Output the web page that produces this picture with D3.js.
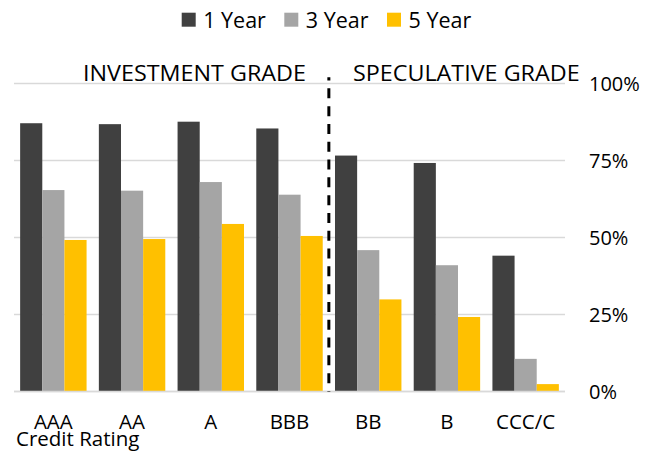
<!DOCTYPE html>
<html>
<head>
<meta charset="utf-8">
<script src="https://cdn.jsdelivr.net/npm/d3@7"></script>
<style>
  html, body { margin: 0; padding: 0; background: #fff; }
  svg { display: block; }
  text { font-family: "Open Sans", "Noto Sans", sans-serif; fill: #000; }
</style>
</head>
<body>
<svg id="chart" width="655" height="454"></svg>
<script>
const categories = ["AAA", "AA", "A", "BBB", "BB", "B", "CCC/C"];
const seriesNames = ["1 Year", "3 Year", "5 Year"];
const oneYear   = [87.1, 86.8, 87.6, 85.4, 76.6, 74.2, 44.1];
const threeYear = [65.4, 65.2, 68.0, 63.9, 45.9, 41.0, 10.6];
const fiveYear  = [49.2, 49.5, 54.4, 50.5, 29.9, 24.2, 2.4];
const yTicks = [0, 25, 50, 75, 100];
const yTickLabels = ["0%", "25%", "50%", "75%", "100%"];
const gradeLabels = ["INVESTMENT GRADE", "SPECULATIVE GRADE"];
const xAxisTitle = "Credit Rating";
const separatorBefore = "BB";
const separatorTop = 102;

const colors = ["#404040", "#a5a5a5", "#ffc000"];
const seriesValues = [oneYear, threeYear, fiveYear];

const svg = d3.select("#chart");
const plot = { left: 14, right: 565, top: 83.5, bottom: 391.5 };

const pad = 0.156;
const x = d3.scaleBand().domain(categories).range([plot.left, plot.right])
  .paddingInner(pad).paddingOuter(pad / 2);
const xs = d3.scaleBand().domain(seriesNames).range([0, x.bandwidth()]);
const y = d3.scaleLinear().domain([0, 100]).range([plot.bottom, plot.top]);

// gridlines
svg.append("g").selectAll("line").data(yTicks).join("line")
  .attr("x1", plot.left).attr("x2", plot.right)
  .attr("y1", d => y(d)).attr("y2", d => y(d))
  .attr("stroke", "#d9d9d9").attr("stroke-width", 1.5);

// bars
const table = categories.map((c, i) => ({ cat: c, vals: seriesNames.map((s, j) => ({ s, v: seriesValues[j][i], j })) }));
svg.append("g").selectAll("g").data(table).join("g")
  .attr("transform", d => `translate(${x(d.cat)},0)`)
  .selectAll("rect").data(d => d.vals).join("rect")
  .attr("x", d => xs(d.s))
  .attr("width", xs.bandwidth())
  .attr("y", d => y(d.v))
  .attr("height", d => y(0) - y(d.v))
  .attr("fill", d => colors[d.j]);

// baseline on top
svg.append("line")
  .attr("x1", plot.left).attr("x2", plot.right)
  .attr("y1", y(0)).attr("y2", y(0))
  .attr("stroke", "#d9d9d9").attr("stroke-width", 1.5);

// separator
const sepX = x(separatorBefore) - (x.step() - x.bandwidth()) / 2;
svg.append("line")
  .attr("x1", sepX).attr("x2", sepX)
  .attr("y1", y(separatorTop)).attr("y2", y(0))
  .attr("stroke", "#000").attr("stroke-width", 3)
  .attr("stroke-dasharray", "10 7.8")
  .attr("stroke-dashoffset", 6.8);

// y labels (right)
svg.append("g").selectAll("text").data(yTicks).join("text")
  .attr("x", 589).attr("y", d => y(d)).attr("dy", "0.36em")
  .style("font-size", "20px")
  .text((d, i) => yTickLabels[i]);

// category labels
svg.append("g").selectAll("text").data(categories).join("text")
  .attr("x", d => x(d) + x.bandwidth() / 2).attr("y", 429)
  .attr("text-anchor", "middle")
  .style("font-size", "20.5px")
  .text(d => d);

svg.append("text").attr("x", 16).attr("y", 445.5)
  .style("font-size", "20.5px").text(xAxisTitle);

// grade headers (slightly widened to match the reference's stretched type)
const headerX = [83, 353];
svg.append("g").selectAll("text").data(gradeLabels).join("text")
  .attr("transform", (d, i) => `translate(${headerX[i]},80.5) scale(1.085,1)`)
  .style("font-size", "21.5px")
  .text(d => d);

// legend
const legendX = [181.7, 284.3, 387];
const lg = svg.append("g").selectAll("g").data(seriesNames).join("g")
  .attr("transform", (d, i) => `translate(${legendX[i]},12.7)`);
lg.append("rect").attr("width", 14).attr("height", 14).attr("fill", (d, i) => colors[i]);
lg.append("text").attr("x", 21.5).attr("y", 15).style("font-size", "21.5px").text(d => d);
</script>
</body>
</html>
